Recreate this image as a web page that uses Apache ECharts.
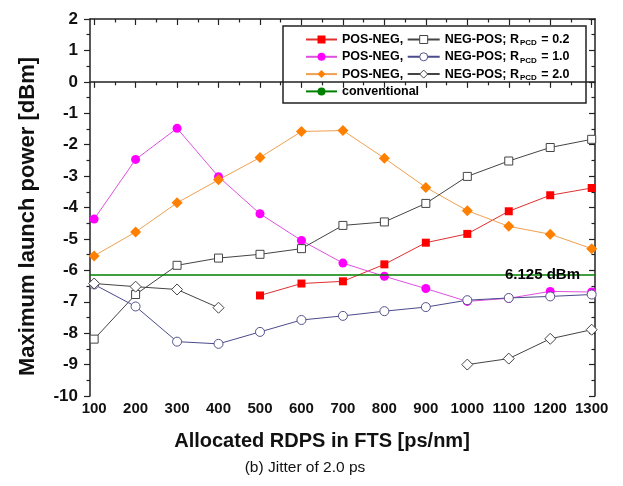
<!DOCTYPE html>
<html><head><meta charset="utf-8">
<script src="https://cdn.jsdelivr.net/npm/echarts@6/dist/echarts.min.js"></script>
<style>html,body{margin:0;padding:0;background:#fff}#c{width:623px;height:486px}</style>
</head><body><div id="c"></div>
<script>
// ---- data ----
const xValues = [100,200,300,400,500,600,700,800,900,1000,1100,1200,1300];
const posNeg02 = [null,null,null,null,-6.80,-6.42,-6.35,-5.81,-5.12,-4.84,-4.12,-3.61,-3.38];
const negPos02 = [-8.19,-6.77,-5.84,-5.61,-5.49,-5.31,-4.57,-4.46,-3.87,-3.01,-2.52,-2.09,-1.83];
const posNeg10 = [-4.37,-2.47,-1.48,-3.02,-4.20,-5.05,-5.77,-6.19,-6.58,-6.99,-6.89,-6.67,-6.69];
const negPos10 = [-6.45,-7.15,-8.27,-8.34,-7.96,-7.58,-7.45,-7.30,-7.17,-6.95,-6.88,-6.83,-6.77];
const posNeg20 = [-5.54,-4.78,-3.85,-3.12,-2.41,-1.58,-1.55,-2.43,-3.36,-4.10,-4.60,-4.85,-5.31];
const negPos20 = [-6.42,-6.52,-6.61,-7.19,null,null,null,null,null,-9.00,-8.81,-8.18,-7.89];
const conventionalLevel = -6.125;
const conventionalLabel = '6.125 dBm';
const xMajorTicks = [100,200,300,400,500,600,700,800,900,1000,1100,1200,1300];
const xMinorTicks = [150,250,350,450,550,650,750,850,950,1050,1150,1250];
const rValues = {np02:'0.2', np10:'1.0', np20:'2.0'};

const pairs = arr => xValues.map((x,i) => [x, arr[i] == null ? '-' : arr[i]]);
const FONT = '"Liberation Sans", Arial, sans-serif';
const AX = '#222';

const chart = echarts.init(document.getElementById('c'), null, {renderer:'canvas'});

function lineSeries(name, arr, symbol, size, lineColor, symColor, open) {
  return {
    name, type:'line', data: pairs(arr), xAxisIndex:0, yAxisIndex:0,
    symbol, symbolSize:size, showAllSymbol:true, connectNulls:false,
    lineStyle:{color:lineColor, width:1},
    itemStyle: open ? {color:'#fff', borderColor:symColor, borderWidth:1}
                    : {color:symColor, borderWidth:0},
    emphasis:{disabled:true}, animation:false, z:3
  };
}

const option = {
  backgroundColor:'#fff',
  animation:false,
  textStyle:{fontFamily:FONT},
  grid:{left:90, right:28, top:19, bottom:90, containLabel:false},
  xAxis:[
    {type:'value', position:'bottom', min:90, max:1308,
     axisLine:{show:true, lineStyle:{color:AX, width:1.5}},
     axisTick:{show:true, inside:false, length:6, customValues:xMajorTicks, lineStyle:{color:AX, width:1.2}},
     axisLabel:{show:true, customValues:xMajorTicks, formatter: v => String(v), margin:5, color:'#111', fontSize:15, fontWeight:'bold', fontFamily:FONT},
     splitLine:{show:false},
     name:'Allocated RDPS in FTS [ps/nm]', nameLocation:'middle', nameGap:35,
     nameTextStyle:{color:'#111', fontSize:20, fontWeight:'bold', fontFamily:FONT, padding:[0,41,0,0]}},
    {type:'value', position:'bottom', min:90, max:1308,
     axisLine:{show:false},
     axisTick:{show:true, inside:false, length:3.5, customValues:xMinorTicks, lineStyle:{color:AX, width:1.2}},
     axisLabel:{show:false}, splitLine:{show:false}},
    {type:'value', position:'top', min:90, max:1308,
     axisLine:{show:true, lineStyle:{color:AX, width:1.5}},
     axisTick:{show:true, inside:true, length:6, customValues:xMajorTicks, lineStyle:{color:AX, width:1.2}},
     axisLabel:{show:false}, splitLine:{show:false}},
    {type:'value', position:'top', min:90, max:1308,
     axisLine:{show:false},
     axisTick:{show:true, inside:true, length:3.5, customValues:xMinorTicks, lineStyle:{color:AX, width:1.2}},
     axisLabel:{show:false}, splitLine:{show:false}}
  ],
  yAxis:[
    {type:'value', position:'left', min:-10, max:2, interval:1,
     axisLine:{show:true, lineStyle:{color:AX, width:1.5}},
     axisTick:{show:true, inside:false, length:6, lineStyle:{color:AX, width:1.2}},
     minorTick:{show:true, splitNumber:2, length:3.5, lineStyle:{color:AX, width:1.2}},
     axisLabel:{margin:12, color:'#111', fontSize:17, fontWeight:'bold', fontFamily:FONT},
     splitLine:{show:false}, minorSplitLine:{show:false},
     name:'Maximum launch power [dBm]', nameLocation:'middle', nameGap:51,
     nameTextStyle:{color:'#111', fontSize:22, fontWeight:'bold', fontFamily:FONT, padding:[0,18,0,0]}},
    {type:'value', position:'right', min:-10, max:2, interval:1,
     axisLine:{show:true, lineStyle:{color:AX, width:1.5}},
     axisTick:{show:true, inside:true, length:6, lineStyle:{color:AX, width:1.2}},
     minorTick:{show:true, splitNumber:2, length:3.5, lineStyle:{color:AX, width:1.2}},
     axisLabel:{show:false}, splitLine:{show:false}}
  ],
  legend:[
    {data:['pn02','pn10','pn20','conv'], orient:'vertical', left:305, top:32, padding:0,
     itemWidth:31, itemHeight:10, itemGap:2.3, itemTextGap:6, selectedMode:false,
     formatter: n => n === 'conv' ? 'conventional' : 'POS-NEG,',
     textStyle:{color:'#000', fontSize:12.5, fontWeight:'bold', fontFamily:FONT, lineHeight:15}},
    {data:['np02','np10','np20'], orient:'vertical', left:406.7, top:32, padding:0,
     itemWidth:32, itemHeight:10, itemGap:2.3, itemTextGap:5, selectedMode:false,
     itemStyle:{borderWidth:1},
     formatter: n => '{t|NEG-POS; R}{s|PCD}{t| = ' + rValues[n] + '}',
     textStyle:{color:'#000', fontSize:12.5, fontWeight:'bold', fontFamily:FONT, lineHeight:15,
       rich:{
         t:{color:'#000', fontSize:12.5, fontWeight:'bold', fontFamily:FONT, lineHeight:15},
         s:{color:'#000', fontSize:8, fontWeight:'bold', fontFamily:FONT, lineHeight:15, verticalAlign:'bottom', padding:[0,1,0,1]}
       }}}
  ],
  graphic:[
    {type:'rect', shape:{x:283, y:26, width:303, height:77}, style:{fill:'none', stroke:'#222', lineWidth:1.5}, z:10, silent:true},
    {type:'text', x:305, y:468, style:{text:'(b) Jitter of 2.0 ps', fill:'#111', font:'15.5px ' + FONT, textAlign:'center', textVerticalAlign:'middle'}, silent:true}
  ],
  series:[
    lineSeries('pn02', posNeg02, 'rect', 8, '#e03030', '#ff0000', false),
    lineSeries('pn10', posNeg10, 'circle', 9, '#e050e0', '#ff00ff', false),
    lineSeries('pn20', posNeg20, 'diamond', 11, '#f0a050', '#ff8000', false),
    {name:'conv', type:'line', data:[], xAxisIndex:0, yAxisIndex:0, symbol:'none',
     lineStyle:{color:'#008000', width:1.5}, itemStyle:{color:'#008000'}, z:2,
     markLine:{silent:true, symbol:['none','none'], animation:false,
       lineStyle:{color:'#008000', width:1.5, type:'solid'},
       label:{show:true, position:'insideEnd', distance:[15,0], formatter:conventionalLabel,
              color:'#000', fontSize:15, fontWeight:'bold', fontFamily:FONT},
       emphasis:{disabled:true},
       data:[{yAxis:conventionalLevel}]}},
    lineSeries('np02', negPos02, 'rect', 8, '#444', '#444', true),
    lineSeries('np10', negPos10, 'circle', 9, '#4b4b8c', '#55558a', true),
    lineSeries('np20', negPos20, 'diamond', 11, '#444', '#444', true)
  ]
};
chart.setOption(option);
</script></body></html>
